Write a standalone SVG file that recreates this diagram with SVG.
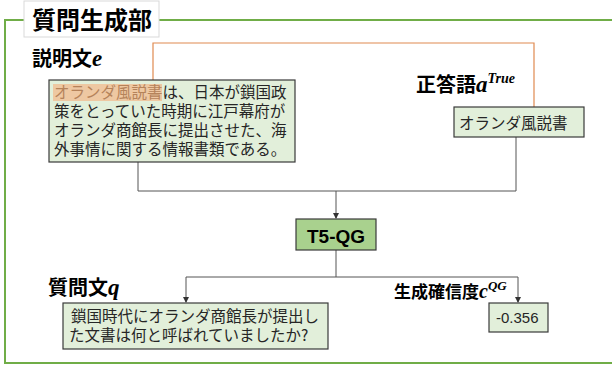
<svg xmlns="http://www.w3.org/2000/svg" width="612" height="368" viewBox="0 0 612 368">
<style>
.lbl{font-family:"Noto Sans CJK JP",sans-serif;font-weight:bold;fill:#000;}
.math{font-family:"Liberation Serif",serif;font-weight:bold;font-style:italic;fill:#000;}
.box{fill:#E2EFDA;stroke:#3A3A3A;stroke-width:1.2;}
.txt{font-family:"Noto Sans CJK JP",sans-serif;font-size:15.5px;fill:#262626;}
.conn{fill:none;stroke:#555;stroke-width:1;}
</style>
<defs>
<marker id="ah" markerWidth="6" markerHeight="6" refX="5" refY="3" orient="auto" markerUnits="userSpaceOnUse">
<path d="M0,0 L6,3 L0,6 z" fill="#333"/>
</marker>
</defs>
<rect x="0" y="0" width="612" height="368" fill="#fff"/>
<g id="frame">
<path d="M612,20 L5,20 L5,363 L612,363" fill="none" stroke="#70AD47" stroke-width="2"/>
</g>
<g id="title">
<rect x="24" y="1" width="135" height="36" fill="#fff" stroke="#D9D9D9" stroke-width="1"/>
<text x="32" y="29" class="lbl" font-size="24">質問生成部</text>
</g>
<g id="connectors">
<path d="M153,84 L153,43 L534,43 L534,107" fill="none" stroke="#E08A50" stroke-width="1.2"/>
<path class="conn" d="M138,162 L138,191 L516,191 L516,137"/>
<path class="conn" d="M336,191 L336,218" marker-end="url(#ah)"/>
<path class="conn" d="M336,250 L336,277"/>
<path class="conn" d="M186,277 L518,277"/>
<path class="conn" d="M186,277 L186,302" marker-end="url(#ah)"/>
<path class="conn" d="M518,277 L518,302" marker-end="url(#ah)"/>
</g>
<g id="desc">
<text x="32" y="66" class="lbl" font-size="20">説明文<tspan class="math" font-size="23">e</tspan></text>
<rect class="box" x="49" y="80" width="246" height="82"/>
<rect x="53" y="84" width="109" height="17" fill="#EEC8A2"/>
<text class="txt" x="54" y="98"><tspan fill="#B5835A">オランダ風説書</tspan>は、日本が鎖国政</text>
<text class="txt" x="54" y="117">策をとっていた時期に江戸幕府が</text>
<text class="txt" x="54" y="136">オランダ商館長に提出させた、海</text>
<text class="txt" x="54" y="155">外事情に関する情報書類である。</text>
</g>
<g id="answer">
<text x="416" y="92" class="lbl" font-size="20">正答語<tspan class="math" font-size="23">a</tspan><tspan class="math" font-size="14" dy="-9">True</tspan></text>
<rect class="box" x="454" y="107" width="130" height="30"/>
<text class="txt" x="459" y="129">オランダ風説書</text>
</g>
<g id="t5qg">
<rect x="296" y="219" width="80" height="31" fill="#A9D18E" stroke="#3A3A3A" stroke-width="1.2"/>
<text x="336" y="243" text-anchor="middle" font-family="Liberation Sans,Arial,sans-serif" font-weight="bold" font-size="19" fill="#000">T5-QG</text>
</g>
<g id="question">
<text x="48" y="295" class="lbl" font-size="20">質問文<tspan class="math" font-size="23">q</tspan></text>
<rect class="box" x="63" y="303" width="265" height="46"/>
<text class="txt" x="71" y="322">鎖国時代にオランダ商館長が提出し</text>
<text class="txt" x="69" y="341">た文書は何と呼ばれていましたか?</text>
</g>
<g id="confidence">
<text x="394" y="298" class="lbl" font-size="17">生成確信度<tspan class="math" font-size="20">c</tspan><tspan class="math" font-size="13" dy="-8">QG</tspan></text>
<rect class="box" x="489" y="303" width="59" height="29"/>
<text x="496" y="323" font-family="Liberation Sans,Arial,sans-serif" font-size="15" fill="#262626">-0.356</text>
</g>
</svg>
